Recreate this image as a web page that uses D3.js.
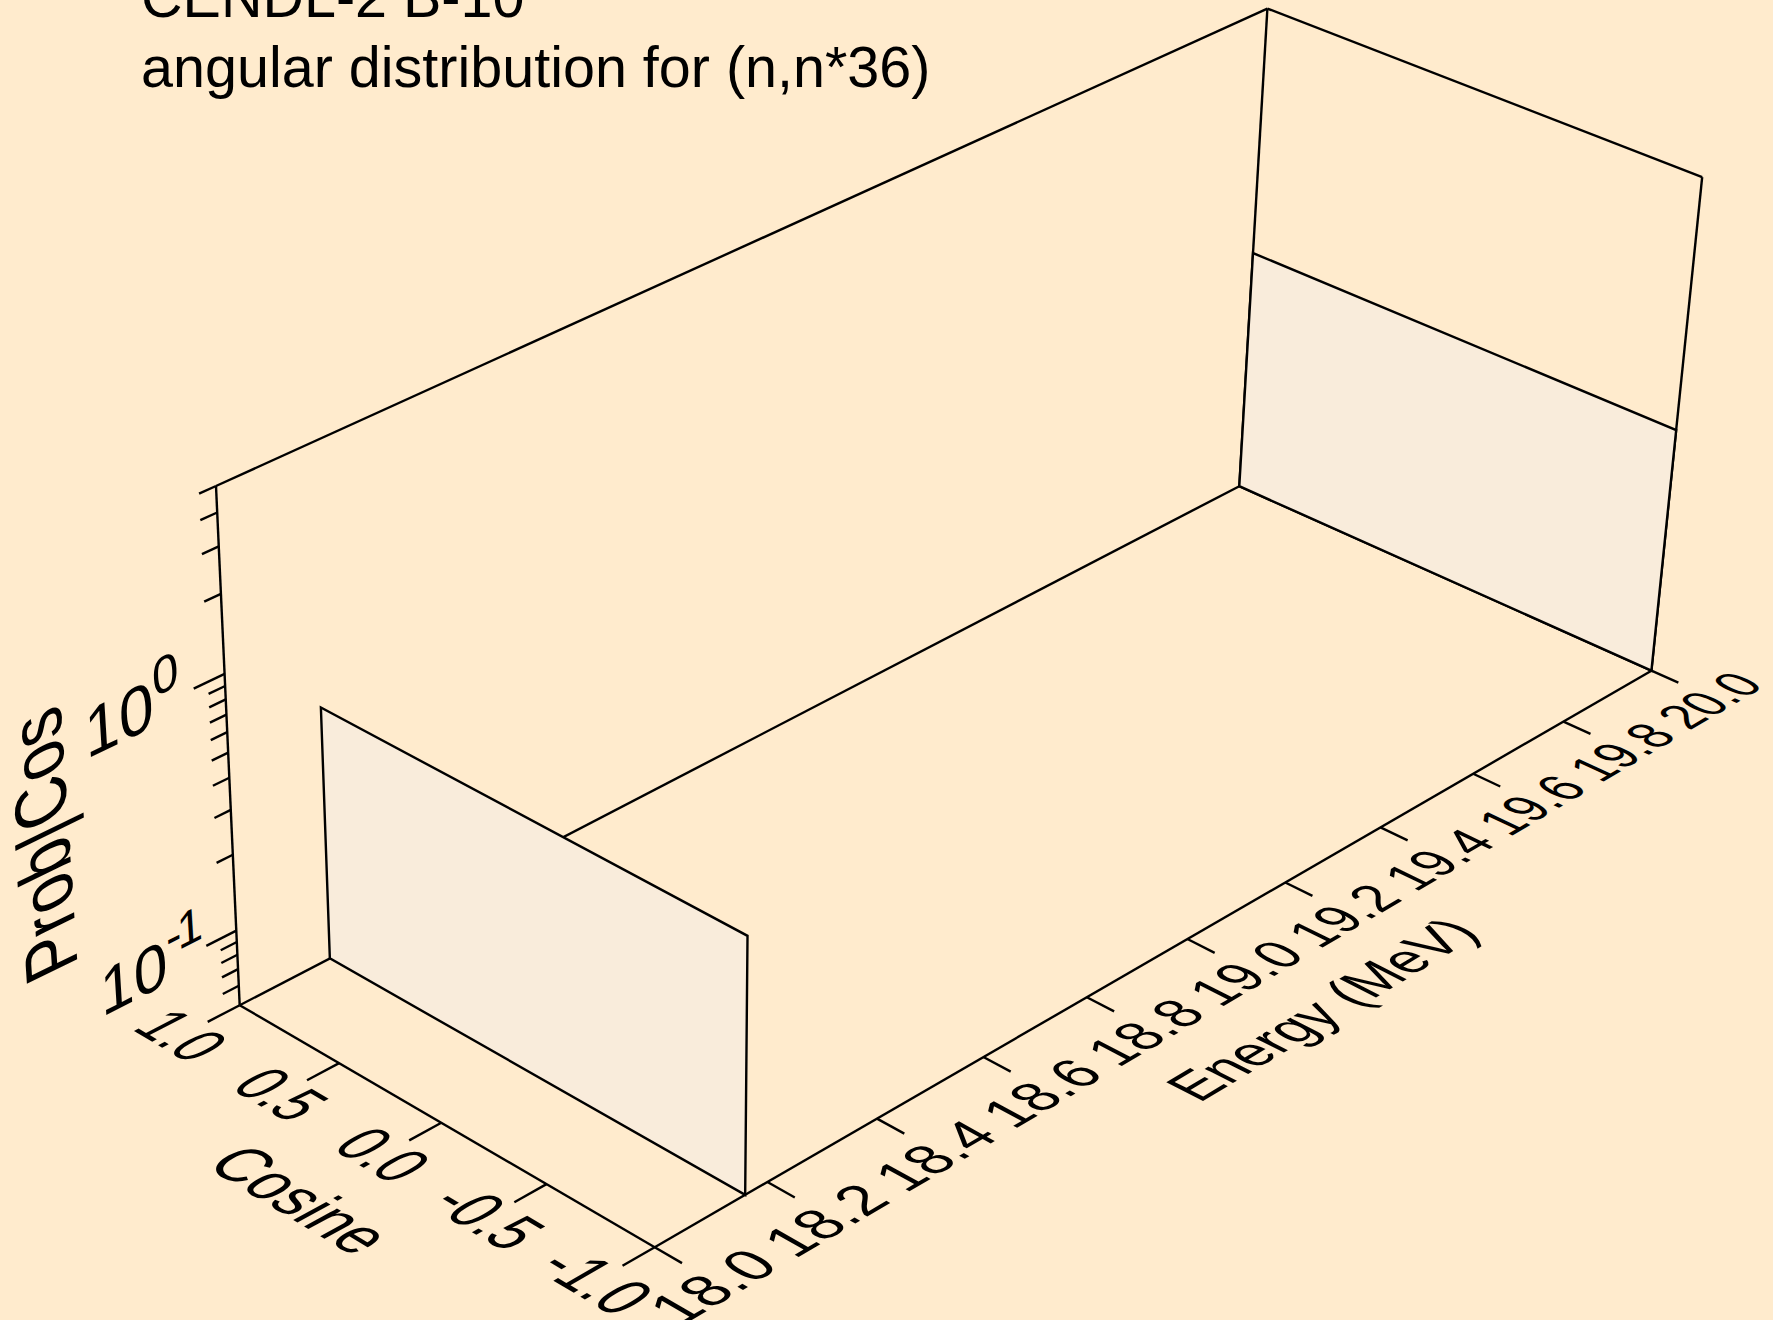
<!DOCTYPE html>
<html>
<head>
<meta charset="utf-8">
<script src="https://cdn.jsdelivr.net/npm/d3@7"></script>
<style>
  html, body { margin: 0; padding: 0; background: #FFEBCD; }
  svg { display: block; }
  text { font-family: "Liberation Sans", Arial, sans-serif; fill: #000; }
</style>
</head>
<body>
<script>
var titleLines = ["CENDL-2 B-10", "angular distribution for (n,n*36)"];

var cosineTicks = [1.0, 0.5, 0.0, -0.5, -1.0];
var cosineLabels = ["1.0", "0.5", "0.0", "-0.5", "-1.0"];
var energyTicks = [18.0, 18.2, 18.4, 18.6, 18.8, 19.0, 19.2, 19.4, 19.6, 19.8, 20.0];
var energyLabels = ["18.0", "18.2", "18.4", "18.6", "18.8", "19.0", "19.2", "19.4", "19.6", "19.8", "20.0"];
var probMajor = [0.1, 1];
var probMajorExp = ["-1", "0"];
var probMinor = [0.06, 0.07, 0.08, 0.09, 0.2, 0.3, 0.4, 0.5, 0.6, 0.7, 0.8, 0.9, 2, 3, 4, 5];

// the distribution is flat: 0.5 over all cosines, from threshold up to 20 MeV
var surfaceEnergy = [18.16, 20.0];
var surfaceCosine = [1.0, -1.0];
var surfaceProb = [0.5, 0.5];
var probFloor = 0.05;

var width = 1773, height = 1320;

var cosScale = d3.scaleLinear().domain([1, -1]).range([0, 1]);
var energyScale = d3.scaleLinear().domain([18, 20]).range([0, 1]);
var probScale = d3.scaleLog().domain([probFloor, 5]).range([0, 1]);

// box corners on screen and the perspective weights of the three edges
var org = [239.7, 1005.2], endU = [654.7, 1247.2], endV = [1239.3, 486.2], endW = [216, 486];
var wu = 0.945, wv = 1.14, ww = 0.947;

function project(u, v, w) {
  var den = 1 + (wu - 1) * u + (wv - 1) * v + (ww - 1) * w;
  return [0, 1].map(function(i) {
    return org[i] + (u * wu * (endU[i] - org[i]) + v * wv * (endV[i] - org[i]) + w * ww * (endW[i] - org[i])) / den;
  });
}

var svg = d3.select("body").append("svg")
  .attr("width", width)
  .attr("height", height);

var line = d3.line();

function seg(a, b) {
  svg.append("path")
    .attr("d", line([project(a[0], a[1], a[2]), project(b[0], b[1], b[2])]))
    .attr("fill", "none")
    .attr("stroke", "#000")
    .attr("stroke-width", 2.4);
}

// local screen step of a box direction, per unit of the box
function step(pos, dir) {
  var p = project(pos[0], pos[1], pos[2]);
  var q = project(pos[0] + dir[0] * 0.01, pos[1] + dir[1] * 0.01, pos[2] + dir[2] * 0.01);
  return [(q[0] - p[0]) * 100, (q[1] - p[1]) * 100];
}

// text lying in a plane of the box: dirX runs along the baseline, dirY up the letters.
// it shrinks with the perspective like everything else in that plane
function planeText(pos, dirX, dirY, size, anchor, tall) {
  var p = project(pos[0], pos[1], pos[2]);
  var ax = step(pos, dirX), ay = step(pos, dirY);
  var bx = step([0.5, 0.5, 0.5], dirX), by = step([0.5, 0.5, 0.5], dirY);
  var nx = Math.hypot(bx[0], bx[1]), ny = Math.hypot(by[0], by[1]) / (tall || 1);
  return svg.append("text")
    .attr("transform", "matrix(" + [ax[0] / nx, ax[1] / nx, -ay[0] / ny, -ay[1] / ny, p[0], p[1]].join(" ") + ")")
    .attr("text-anchor", anchor)
    .attr("font-size", size);
}

// box outline
var zTop = probScale(5), zBot = probScale(probFloor);
seg([0, 0, zBot], [0, 0, zTop]);
seg([0, 0, zTop], [0, 1, zTop]);
seg([0, 1, zTop], [1, 1, zTop]);
seg([0, 1, zBot], [0, 1, zTop]);
seg([1, 1, zBot], [1, 1, zTop]);
seg([0, 0, zBot], [1, 0, zBot]);
seg([1, 0, zBot], [1, 1, zBot]);
seg([0, 1, zBot], [1, 1, zBot]);
seg([0, 0, zBot], [0, 1, zBot]);

// end panels of the surface
surfaceEnergy.forEach(function(e, i) {
  var v = energyScale(e), w = probScale(surfaceProb[i]);
  var u0 = cosScale(surfaceCosine[0]), u1 = cosScale(surfaceCosine[1]);
  var corners = [[u0, v, zBot], [u0, v, w], [u1, v, w], [u1, v, zBot]];
  svg.append("path")
    .attr("d", line(corners.map(function(c) { return project(c[0], c[1], c[2]); })) + "Z")
    .attr("fill", "#F9ECDB")
    .attr("stroke", "#000")
    .attr("stroke-width", 2.4)
    .attr("stroke-linejoin", "miter");
});

// cosine axis
cosineTicks.forEach(function(c, i) {
  seg([cosScale(c), 0, zBot], [cosScale(c), -0.028, zBot]);
  planeText([cosScale(c), -0.05, zBot], [1, 0, 0], [0, 1, 0], 51, "middle", 1.2)
    .attr("dy", "0.36em")
    .text(cosineLabels[i]);
});
planeText([0.5, -0.12, zBot], [1, 0, 0], [0, 1, 0], 55, "middle", 1.1)
  .attr("dy", "0.36em")
  .text("Cosine");

// energy axis
energyTicks.forEach(function(e, i) {
  seg([1, energyScale(e), zBot], [1.062, energyScale(e), zBot]);
  planeText([1.14, energyScale(e) - 0.004, zBot], [0, 1, 0], [-1, 0, 0], 52, "middle", 1.06)
    .attr("dy", "0.36em")
    .text(energyLabels[i]);
});
planeText([1.305, 0.498, zBot], [0, 1, 0], [-1, 0, 0], 53, "middle", 1.05)
  .attr("dy", "0.36em")
  .text("Energy (MeV)");

// probability axis
probMajor.forEach(function(p, i) {
  seg([0, 0, probScale(p)], [0, -0.026, probScale(p)]);
  var t = planeText([0, -0.116, probScale(p) - 0.035], [0, 1, 0], [0, 0, 1], 58, "start", 1.12);
  t.append("tspan").text("10");
  t.append("tspan")
    .attr("font-size", 44)
    .attr("dy", "-0.55em")
    .attr("letter-spacing", -4)
    .text(probMajorExp[i]);
});
probMinor.forEach(function(p) {
  seg([0, 0, probScale(p)], [0, -0.014, probScale(p)]);
});
planeText([0, -0.155, 0.495], [0, 0, 1], [0, -1, 0], 61, "middle", 1.12)
  .attr("dy", "0.36em")
  .text("Prob|Cos");

// title
titleLines.forEach(function(s, i) {
  svg.append("text")
    .attr("x", 141)
    .attr("y", 17 + i * 70)
    .attr("font-size", 57.5)
    .text(s);
});
</script>
</body>
</html>
